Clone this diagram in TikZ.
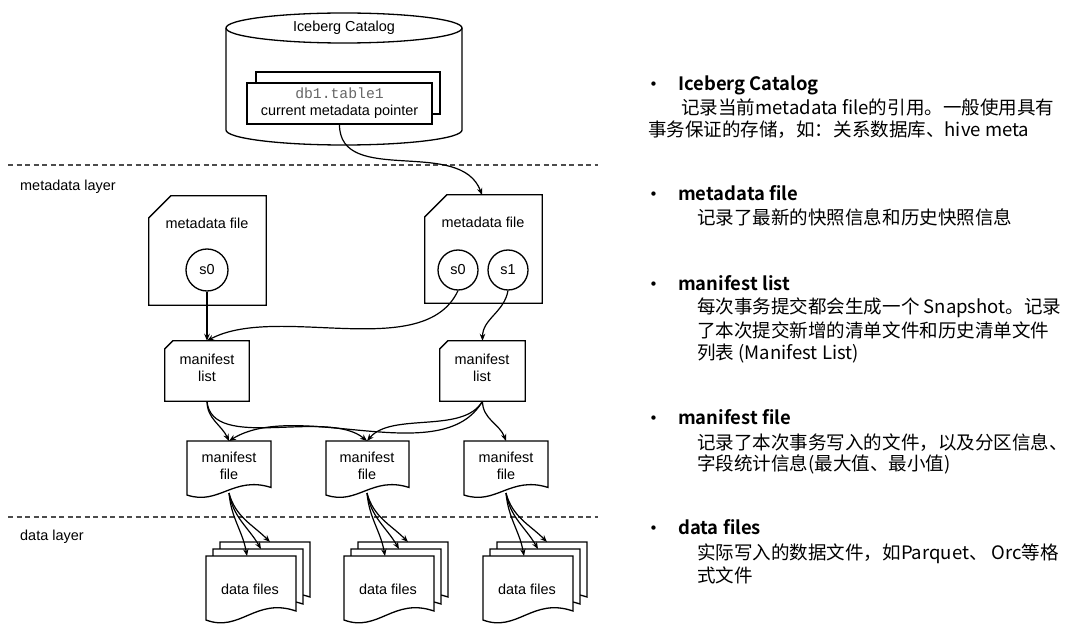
\documentclass[tikz,border=0pt]{standalone}
\usepackage{fontspec}
\newfontfamily\arialf{Liberation Sans}
\newfontfamily\monof{Liberation Mono}
\newfontfamily\cjkf[BoldFont={Noto Sans CJK SC Bold}]{Noto Sans CJK SC}
\usetikzlibrary{arrows.meta}

% card shape: name, cx, cy, w, h, cut
\newcommand{\cardnode}[6]{%
  \node[minimum width=#4bp, minimum height=#5bp, inner sep=0pt] (#1) at (#2,#3) {};
  \draw[shp] ([yshift=-#6bp]#1.north west) -- ([xshift=#6bp]#1.north west) -- (#1.north east) -- (#1.south east) -- (#1.south west) -- cycle;}
% document shape: left x, top y, w, h
\newcommand{\docshape}[4]{%
  \draw[shp] (#1,{#2+#4}) -- (#1,#2) -- ({#1+#3},#2) -- ({#1+#3},{#2+#4-0.14*#4})
    .. controls ({#1+0.55*#3},{#2+#4-0.36*#4}) and ({#1+0.38*#3},{#2+#4+0.2*#4}) .. (#1,{#2+#4}) -- cycle;}

\begin{document}
\begin{tikzpicture}[x=1bp,y=-1bp,
  shp/.style={draw=black, line width=1.3bp, fill=white},
  lbl/.style={font=\arialf\fontsize{14.5}{17}\selectfont, align=center, inner sep=0pt},
  conn/.style={draw=black, line width=1.2bp, -{Stealth[length=7bp,width=5.5bp]}},
  layer/.style={draw=black!70, line width=1.1bp, dash pattern=on 5bp off 3.5bp},
  head/.style={font=\cjkf\bfseries\fontsize{18.5}{22}\selectfont, anchor=base west, inner sep=0pt},
  body/.style={font=\cjkf\fontsize{18.6}{22}\selectfont, anchor=base west, inner sep=0pt},
  ]
\useasboundingbox[fill=white] (0,0) rectangle (1080,641);

% ---------- layers ----------
\coordinate (l1a) at (8,165); \coordinate (l1b) at (598,165);
\coordinate (l2a) at (8,517); \coordinate (l2b) at (598,517);
\draw[layer] (l1a) -- (l1b);
\draw[layer] (l2a) -- (l2b);
\node[lbl, anchor=west] (mlayer) at (20,187) {metadata layer};
\node[lbl, anchor=west] (dlayer) at (20,537) {data layer};

% ---------- catalog cylinder ----------
\draw[shp] (226,28) -- (226,130) arc[start angle=180, end angle=0, x radius=118, y radius=15] -- (462,28);
\draw[shp] (344,28) ellipse[x radius=118, y radius=15];
\node[lbl] (catalog) at (344,28) {Iceberg Catalog};
\node[draw=black, line width=1.3bp, fill=white, minimum width=184bp, minimum height=42bp] (ptrback) at (348,93) {};
\node[draw=black, line width=1.3bp, fill=white, minimum width=185bp, minimum height=41bp, lbl] (ptr) at (339.5,103.5)
  {{\monof\fontsize{14.8}{16}\selectfont\color{black!60}db1.table1}\\current metadata pointer};

% ---------- metadata files ----------
\cardnode{mdf1}{207.5}{250.5}{117}{109}{22}
\cardnode{mdf2}{483.5}{249}{117}{108}{22}
\node[lbl] (mdf1t) at (207,223) {metadata file};
\node[lbl] (mdf2t) at (483,222) {metadata file};
\node[draw=black, line width=1.3bp, circle, minimum size=42bp, lbl] (s0a) at (207,270) {s0};
\node[draw=black, line width=1.3bp, circle, minimum size=40bp, lbl] (s0b) at (458,270) {s0};
\node[draw=black, line width=1.3bp, circle, minimum size=40bp, lbl] (s1) at (508,270) {s1};

% ---------- manifest lists ----------
\cardnode{ml1}{207}{371}{84}{60}{8}
\cardnode{ml2}{482.5}{371}{85}{60}{8}
\node[lbl] (ml1t) at (207,368) {manifest\\list};
\node[lbl] (ml2t) at (482,368) {manifest\\list};

% ---------- manifest files ----------
\docshape{187}{441}{84}{54}
\docshape{326}{441}{83}{54}
\docshape{464}{441}{84}{54}
\node[lbl] (mf1) at (229,466) {manifest\\file};
\node[lbl] (mf2) at (367,466) {manifest\\file};
\node[lbl] (mf3) at (506,466) {manifest\\file};
\coordinate (mf1top) at (229,441); \coordinate (mf2top) at (367,441); \coordinate (mf3top) at (506,441);
\coordinate (mf1bot) at (229,493); \coordinate (mf2bot) at (367,493); \coordinate (mf3bot) at (506,493);

% ---------- data files ----------
\foreach \lx/\n in {206/1,344/2,483/3}{
  \docshape{\lx+14}{542}{90}{64}
  \docshape{\lx+7}{549}{90}{64}
  \docshape{\lx}{556}{90}{64}
  \node[lbl] (df\n) at (\lx+44,589) {data files};
  \coordinate (df\n a) at (\lx+41,556);
  \coordinate (df\n b) at (\lx+55,549);
  \coordinate (df\n c) at (\lx+64,542);
}

% ---------- connectors ----------
\coordinate (mdf2top) at (482,195);
\draw[conn] (ptr.south) to[out=-90,in=110] (mdf2top);
\draw[conn] (s0a.south) -- (ml1.north);
\draw[conn] (s0b.south) to[out=-115,in=28,looseness=0.8] (ml1.north);
\draw[conn] (s1.south) to[out=-100,in=90] (ml2.north);
\draw[conn] (ml1.south) to[out=-90,in=115] (mf1top);
\draw[conn] (ml1.south) to[out=-85,in=140,looseness=0.8] (mf2top);
\draw[conn] (ml2.south) to[out=-120,in=32,looseness=0.8] (mf1top);
\draw[conn] (ml2.south) to[out=-120,in=50,looseness=0.8] (mf2top);
\draw[conn] (ml2.south) to[out=-90,in=110] (mf3top);
\foreach \n in {1,2,3}{
  \draw[conn] (mf\n bot) to[out=-85,in=100] (df\n a);
  \draw[conn] (mf\n bot) to[out=-80,in=120] (df\n b);
  \draw[conn] (mf\n bot) to[out=-75,in=135] (df\n c);
}

% ---------- right-hand text ----------
\foreach \y/\n in {91/1,201/2,291/3,424/4,534/5}{
  \node[body, font=\cjkf\bfseries\fontsize{17}{18}\selectfont] (bul\n) at (645,\y) {•};
}
\node[head] (h1) at (678,91) {Iceberg Catalog};
\node[body] (t1a) at (681,115) {记录当前metadata file的引用。一般使用具有};
\node[body] (t1b) at (648,137) {事务保证的存储，如：关系数据库、hive meta};
\node[head] (h2) at (678,201) {metadata file};
\node[body] (t2a) at (697,225) {记录了最新的快照信息和历史快照信息};
\node[head] (h3) at (678,291) {manifest list};
\node[body] (t3a) at (697,314) {每次事务提交都会生成一个 Snapshot。记录};
\node[body] (t3b) at (697,337) {了本次提交新增的清单文件和历史清单文件};
\node[body] (t3c) at (697,359) {列表 (Manifest List)};
\node[head] (h4) at (678,424) {manifest file};
\node[body] (t4a) at (697,449) {记录了本次事务写入的文件，以及分区信息、};
\node[body] (t4b) at (697,470) {字段统计信息(最大值、最小值)};
\node[head] (h5) at (678,534) {data files};
\node[body] (t5a) at (697,559) {实际写入的数据文件，如Parquet、 Orc等格};
\node[body] (t5b) at (697,582) {式文件};
\end{tikzpicture}
\end{document}
